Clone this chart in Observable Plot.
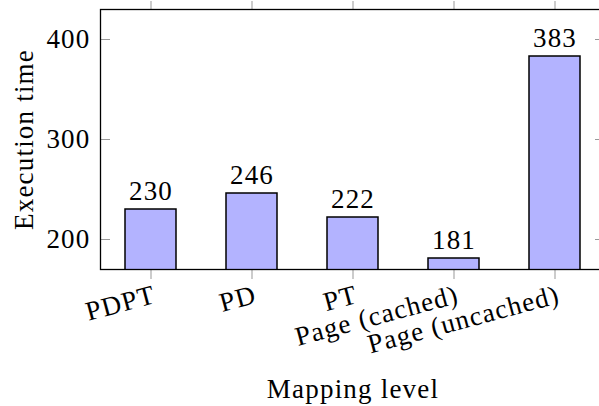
<!DOCTYPE html>
<html>
<head>
<meta charset="utf-8">
<script src="https://cdn.jsdelivr.net/npm/d3@7"></script>
<script src="https://cdn.jsdelivr.net/npm/@observablehq/plot@0.6"></script>
<style>
  html, body { margin: 0; padding: 0; overflow: hidden; background: #fff; width: 599px; height: 406px; }
  #chart svg { max-width: none !important; font-family: "Liberation Serif", serif !important; }
  #chart svg text { letter-spacing: 1.2px; font-family: "Liberation Serif", serif; }
</style>
</head>
<body>
<div id="chart"></div>
<script>
const categories = ["PDPT", "PD", "PT", "Page (cached)", "Page (uncached)"];
const times = [230, 246, 222, 181, 383];
const yTicks = [200, 300, 400];
const yDomain = [170, 430];
const xLabel = "Mapping level";
const yLabel = "Execution time";

const data = categories.map((c, i) => ({cat: c, value: times[i]}));

const W = 606, H = 406, mL = 100, mR = 1, mT = 9, mB = 137;
const plotW = W - mL - mR;

const chart = Plot.plot({
  width: W,
  height: H,
  marginLeft: mL,
  marginRight: mR,
  marginTop: mT,
  marginBottom: mB,
  style: {fontSize: "27px", color: "#000", background: "#fff", overflow: "visible"},
  x: {type: "band", domain: categories, paddingInner: 0.495, paddingOuter: 0.2475, axis: null},
  y: {domain: yDomain, axis: null},
  marks: [
    Plot.barY(data, {x: "cat", y: "value", fill: "#b3b3ff", stroke: "#000", strokeWidth: 1.5, clip: true}),
    Plot.text(data, {x: "cat", y: "value", text: d => String(d.value), dy: -10, lineAnchor: "bottom", fontSize: 27}),
    Plot.tickY(yTicks, {y: d => d, insetRight: plotW - 10, stroke: "#999", strokeWidth: 1}),
    Plot.tickY(yTicks, {y: d => d, insetLeft: plotW - 10, stroke: "#999", strokeWidth: 1}),
    Plot.axisX({anchor: "bottom", tickSize: 10, tickFormat: () => "", stroke: "#999", label: null}),
    Plot.axisX({anchor: "top", tickSize: 9, tickFormat: () => "", stroke: "#999", label: null}),
    Plot.axisY(yTicks, {anchor: "left", tickSize: 0, tickPadding: 10, fontSize: 27, label: null}),
    Plot.text(data, {x: "cat", text: "cat", frameAnchor: "bottom", dy: 33, dx: 6, rotate: -15, textAnchor: "end", lineAnchor: "bottom", fontSize: 27}),
    Plot.text([xLabel], {text: d => d, frameAnchor: "bottom", dy: 397 - (H - mB), textAnchor: "middle", lineAnchor: "bottom", fontSize: 27}),
    Plot.text([yLabel], {text: d => d, frameAnchor: "left", dx: 32 - mL, rotate: -90, textAnchor: "middle", lineAnchor: "bottom", fontSize: 27}),
    Plot.frame({stroke: "#000", strokeWidth: 1.3})
  ]
});
document.getElementById("chart").appendChild(chart);
</script>
</body>
</html>
